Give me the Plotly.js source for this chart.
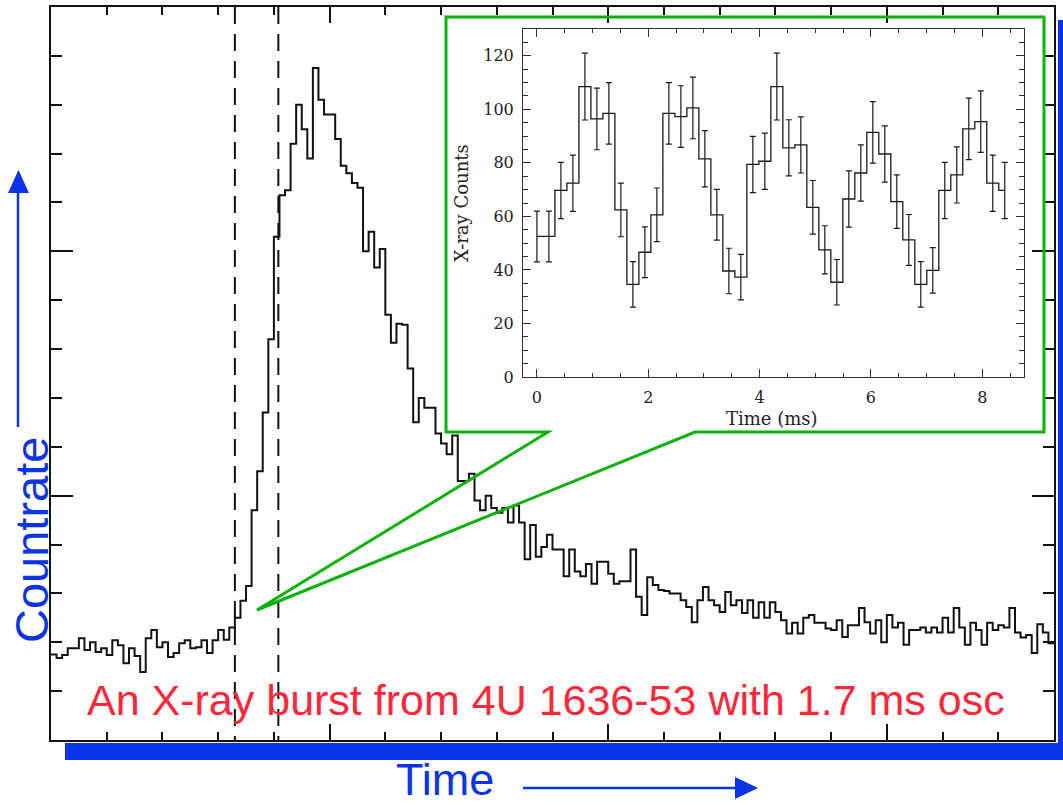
<!DOCTYPE html>
<html>
<head>
<meta charset="utf-8">
<script src="https://cdn.plot.ly/plotly-3.0.1.min.js"></script>
<style>
html,body{margin:0;padding:0;background:#fff;}
#chart{width:1063px;height:805px;}
</style>
</head>
<body>
<div id="chart"></div>
<script>
// ---------------- data ----------------
// Main burst light curve: countrate per bin (arbitrary units), bins of 0.1 time units
const burstBinWidth = 0.1;
const burstCountrate = [
  1.75, 1.68, 1.74, 1.88, 1.88, 2.08, 1.84, 2.00, 1.80, 1.88,
  1.74, 2.04, 1.94, 1.57, 1.88, 1.72, 1.39, 2.08, 2.25, 1.90,
  2.00, 1.70, 1.78, 1.98, 2.04, 1.88, 1.90, 2.04, 1.78, 2.04,
  2.25, 2.05, 2.30, 2.50, 2.85, 3.15, 4.70, 5.50, 6.70, 8.20,
  10.30, 11.15, 11.25, 12.20, 13.00, 12.50, 11.90, 13.75, 13.10, 12.80,
  12.80, 12.30, 11.75, 11.60, 11.40, 11.30, 10.00, 10.40, 9.67, 10.05,
  8.70, 8.13, 8.52, 8.50, 7.60, 6.50, 7.00, 6.80, 6.80, 6.27,
  6.07, 5.85, 6.23, 5.30, 5.30, 5.45, 4.90, 4.70, 5.00, 4.75,
  4.65, 4.75, 4.45, 4.80, 4.45, 3.70, 4.40, 3.75, 3.95, 4.20,
  3.90, 3.90, 3.35, 3.90, 3.45, 3.35, 3.60, 3.20, 3.65, 3.65,
  3.40, 3.20, 3.25, 3.25, 3.90, 2.93, 2.56, 3.33, 3.17, 3.07,
  3.05, 3.00, 3.00, 2.86, 2.72, 2.41, 2.86, 3.13, 2.86, 2.76,
  2.62, 3.03, 2.76, 2.86, 2.60, 2.86, 2.50, 2.82, 2.50, 2.82,
  2.62, 2.45, 2.18, 2.40, 2.18, 2.50, 2.56, 2.40, 2.40, 2.28,
  2.25, 2.45, 2.11, 2.35, 2.35, 2.70, 2.41, 2.18, 2.45, 2.00,
  2.56, 2.30, 2.40, 1.95, 2.25, 2.25, 2.30, 2.20, 2.30, 2.20,
  2.50, 2.20, 2.70, 2.30, 1.95, 2.40, 2.25, 1.95, 2.40, 2.25,
  2.35, 2.30, 2.70, 2.20, 2.10, 2.15, 1.78, 2.37, 2.20, 1.98
];
// Times of the two dashed marker lines (same units as main x axis)
const markerTimes = [3.3, 4.08];

// Inset: folded oscillation profile
const oscBinMs = 0.2155;
const oscCounts = [
  52.5, 52.5, 69.7, 72.4, 108.5, 96.4, 98.5, 62.4, 34.6, 46.6,
  60.6, 98.5, 97.3, 100.5, 81.5, 60.6, 39.6, 37.3, 79.4, 80.6,
  108.5, 85.6, 86.7, 63.4, 47.5, 35.4, 66.5, 76.2, 91.4, 83.3,
  65.5, 51.2, 34.6, 39.8, 69.7, 75.5, 92.7, 95.4, 72.4, 69.7
];
const oscErrors = [
  9.5, 9.5, 10.5, 10.5, 12.5, 11.5, 11.5, 10, 8.5, 9.5,
  10, 11.5, 11.5, 11.5, 10.5, 9.5, 8.5, 8.5, 10.5, 10.5,
  12.5, 10.5, 10.5, 10, 9, 8.5, 10.5, 10.5, 11.5, 10.5,
  10, 9.5, 8.5, 8.5, 10.5, 10.5, 11.5, 11.5, 10.5, 10.5
];
const oscXTickVals = [0, 2, 4, 6, 8];
const oscXTickText = ['0', '2', '4', '6', '8'];
const oscYTickVals = [0, 20, 40, 60, 80, 100, 120];
const oscYTickText = ['0', '20', '40', '60', '80', '100', '120'];

// Text
const captionText = 'An X-ray burst from 4U 1636-53 with 1.7 ms osc';
const yLabelText = 'Countrate';
const xLabelText = 'Time';
const insetYLabel = 'X-ray Counts';
const insetXLabel = 'Time (ms)';

// ---------------- layout helpers ----------------
const W = 1063, H = 805;
const M = {l: 51, r: 9, t: 7, b: 65};
const PW = W - M.l - M.r, PH = H - M.t - M.b;
const fx = px => (px - M.l) / PW;          // pixel x -> paper x
const fy = py => (H - M.b - py) / PH;      // pixel y -> paper y
const pathOf = pts => 'M ' + pts.map(p => fx(p[0]).toFixed(5) + ',' + fy(p[1]).toFixed(5)).join(' L ');

const BLUE = 'rgb(10,52,230)';
const RED = 'rgb(255,40,58)';
const GREEN = 'rgb(12,178,12)';
const INK = '#111111';

// ---------------- traces ----------------
const burstX = burstCountrate.map((_, i) => i * burstBinWidth).concat([burstCountrate.length * burstBinWidth]);
const burstY = burstCountrate.concat([burstCountrate[burstCountrate.length - 1]]);

const traceBurst = {
  type: 'scatter', mode: 'lines', x: burstX, y: burstY,
  xaxis: 'x', yaxis: 'y',
  line: {shape: 'hv', color: INK, width: 2},
  hoverinfo: 'skip', showlegend: false
};

const oscX = oscCounts.map((_, i) => i * oscBinMs);
const traceOsc = {
  type: 'scatter', mode: 'lines', x: oscX, y: oscCounts,
  xaxis: 'x2', yaxis: 'y2',
  line: {shape: 'hvh', color: '#1a1a1a', width: 1.3},
  error_y: {type: 'data', array: oscErrors, visible: true, width: 3, thickness: 1.2, color: '#1a1a1a'},
  hoverinfo: 'skip', showlegend: false
};

// ---------------- axes ----------------
const mainAxisCommon = {
  showline: true, linecolor: INK, linewidth: 2, mirror: 'ticks',
  ticks: 'inside', tickcolor: INK, tickwidth: 2,
  showticklabels: false, showgrid: false, zeroline: false, fixedrange: true
};
const insetFont = {family: 'DejaVu Serif', size: 16, color: '#222'};
const insetAxisCommon = {
  showline: true, linecolor: '#333', linewidth: 1, mirror: 'ticks',
  ticks: 'inside', tickcolor: '#333', tickwidth: 1, ticklen: 8,
  showgrid: false, zeroline: false, tickfont: insetFont, fixedrange: true
};

const layout = {
  width: W, height: H,
  margin: {l: M.l, r: M.r, t: M.t, b: M.b, pad: 0},
  paper_bgcolor: '#ffffff', plot_bgcolor: '#ffffff',
  showlegend: false,
  xaxis: Object.assign({}, mainAxisCommon, {
    domain: [0, 1], range: [0, 18], anchor: 'y',
    tick0: 0, dtick: 5, ticklen: 16,
    minor: {dtick: 1, ticklen: 8, tickwidth: 2, tickcolor: INK, ticks: 'inside'}
  }),
  yaxis: Object.assign({}, mainAxisCommon, {
    domain: [0, 1], range: [0, 15], anchor: 'x',
    tick0: 0, dtick: 5, ticklen: 22,
    minor: {dtick: 1, ticklen: 11, tickwidth: 2, tickcolor: INK, ticks: 'inside'}
  }),
  xaxis2: Object.assign({}, insetAxisCommon, {
    domain: [fx(523), fx(1024)], range: [-0.25, 8.75], anchor: 'y2',
    tickmode: 'array', tickvals: oscXTickVals, ticktext: oscXTickText,
    ticklabelstandoff: 6,
    minor: {dtick: 0.5, tick0: 0, ticklen: 4, tickwidth: 1, tickcolor: '#333', ticks: 'inside'}
  }),
  yaxis2: Object.assign({}, insetAxisCommon, {
    domain: [fy(377), fy(29)], range: [0, 130], anchor: 'x2',
    tickmode: 'array', tickvals: oscYTickVals, ticktext: oscYTickText,
    ticklabelstandoff: 5,
    minor: {dtick: 5, tick0: 0, ticklen: 5, tickwidth: 1, tickcolor: '#333', ticks: 'inside'}
  }),
  shapes: [],
  annotations: []
};

// dashed marker lines (data x, full height)
markerTimes.forEach(t => {
  layout.shapes.push({
    type: 'line', xref: 'x', yref: 'paper', x0: t, x1: t, y0: 1, y1: 0,
    line: {color: INK, width: 2, dash: '17px,10px'}, layer: 'above'
  });
});

// green call-out box with pointer
layout.shapes.push({
  type: 'path', xref: 'paper', yref: 'paper', layer: 'above',
  path: pathOf([[548, 432], [257, 610], [695, 432], [1044, 432], [1044, 17], [446, 17], [446, 432]]) + ' Z',
  line: {color: GREEN, width: 3}, fillcolor: 'rgba(0,0,0,0)'
});

// blue "shadow" bars
layout.shapes.push({
  type: 'rect', xref: 'paper', yref: 'paper', layer: 'above',
  x0: fx(65), x1: fx(1063), y0: fy(760), y1: fy(743),
  line: {width: 0}, fillcolor: BLUE
});
layout.shapes.push({
  type: 'rect', xref: 'paper', yref: 'paper', layer: 'above',
  x0: fx(1058), x1: fx(1063), y0: fy(760), y1: fy(20),
  line: {width: 0}, fillcolor: BLUE
});

// vertical arrow (Countrate)
layout.shapes.push({
  type: 'line', xref: 'paper', yref: 'paper', layer: 'above',
  x0: fx(18), x1: fx(18), y0: fy(427), y1: fy(190),
  line: {color: BLUE, width: 2.5}
});
layout.shapes.push({
  type: 'path', xref: 'paper', yref: 'paper', layer: 'above',
  path: pathOf([[8, 193], [29, 193], [18.5, 170]]) + ' Z',
  line: {width: 0}, fillcolor: BLUE
});
// horizontal arrow (Time)
layout.shapes.push({
  type: 'line', xref: 'paper', yref: 'paper', layer: 'above',
  x0: fx(523), x1: fx(737), y0: fy(788), y1: fy(788),
  line: {color: BLUE, width: 2.5}
});
layout.shapes.push({
  type: 'path', xref: 'paper', yref: 'paper', layer: 'above',
  path: pathOf([[735, 777], [735, 799], [758, 788]]) + ' Z',
  line: {width: 0}, fillcolor: BLUE
});

// text
layout.annotations.push({
  xref: 'paper', yref: 'paper', x: fx(546), y: fy(700), xanchor: 'center', yanchor: 'middle',
  text: captionText, showarrow: false,
  font: {family: 'Liberation Sans, Arial, sans-serif', size: 43, color: RED}
});
layout.annotations.push({
  xref: 'paper', yref: 'paper', x: fx(31), y: fy(540), xanchor: 'center', yanchor: 'middle',
  text: yLabelText, showarrow: false, textangle: -90,
  font: {family: 'Liberation Sans, Arial, sans-serif', size: 47, color: BLUE}
});
layout.annotations.push({
  xref: 'paper', yref: 'paper', x: fx(445), y: fy(780), xanchor: 'center', yanchor: 'middle',
  text: xLabelText, showarrow: false,
  font: {family: 'Liberation Sans, Arial, sans-serif', size: 45, color: BLUE}
});
layout.annotations.push({
  xref: 'paper', yref: 'paper', x: fx(462), y: fy(203), xanchor: 'center', yanchor: 'middle',
  text: insetYLabel, showarrow: false, textangle: -90,
  font: {family: 'DejaVu Serif', size: 18, color: '#222'}
});
layout.annotations.push({
  xref: 'paper', yref: 'paper', x: fx(772), y: fy(418), xanchor: 'center', yanchor: 'middle',
  text: insetXLabel, showarrow: false,
  font: {family: 'DejaVu Serif', size: 18, color: '#222'}
});

Plotly.newPlot('chart', [traceBurst, traceOsc], layout, {staticPlot: true, displayModeBar: false});
</script>
</body>
</html>
